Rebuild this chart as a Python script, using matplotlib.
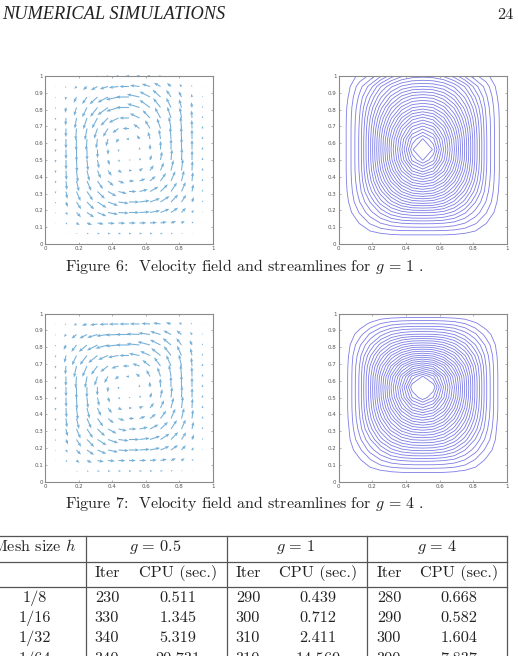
#!/usr/bin/env python3
# Page with velocity fields, streamlines and the iteration table for the cavity runs.

import numpy as np
import matplotlib
matplotlib.use("Agg")
import matplotlib.pyplot as plt

W, H = 518, 656

# stream function on the left half of the 1/16 mesh (rows from y=1 down to y=0)
psi_g1_half = [
    [0, 2.0, 5.0, 7.8, 12.8, 18.0, 22.0, 24.0, 24.5],
    [0, 3.4, 8.8, 14.6, 22.3, 28.2, 32.4, 34.5, 35.0],
    [0, 4.4, 11.0, 19.3, 28.2, 36.0, 42.2, 46.0, 47.0],
    [0, 5.1, 12.5, 23.0, 33.6, 43.6, 51.4, 56.5, 58.0],
    [0, 5.4, 13.4, 25.6, 38.3, 50.0, 60.1, 67.3, 70.0],
    [0, 5.5, 13.8, 27.1, 41.7, 55.4, 67.7, 77.1, 81.0],
    [0, 5.5, 14.0, 27.9, 43.5, 58.9, 73.0, 85.5, 91.0],
    [0, 5.5, 14.0, 28.0, 44.0, 60.0, 75.0, 90.0, 100.0],
    [0, 5.5, 14.0, 27.8, 43.4, 58.7, 72.7, 85.3, 91.0],
    [0, 5.5, 13.8, 26.8, 41.0, 54.6, 66.6, 75.9, 80.0],
    [0, 5.3, 13.1, 24.6, 36.8, 48.1, 58.0, 64.6, 67.0],
    [0, 4.9, 11.9, 21.1, 30.8, 40.2, 47.6, 52.5, 54.0],
    [0, 4.2, 10.1, 16.5, 24.2, 30.9, 36.3, 39.3, 40.0],
    [0, 2.9, 7.4, 12.1, 16.9, 21.5, 24.4, 25.8, 26.0],
    [0, 1.2, 4.2, 7.5, 10.3, 12.3, 13.5, 13.9, 14.0],
    [0, 0.0, 1.2, 2.9, 3.9, 4.4, 4.6, 4.6, 4.6],
    [0, 0, 0, 0, 0, 0, 0, 0, 0],
]
psi_g4_half = [
    [0, 0, 0, 0, 0, 0, 0, 0, 0],
    [0, 0.0, 2.2, 4.7, 7.4, 9.2, 10.1, 10.5, 10.5],
    [0, 2.0, 5.8, 10.8, 15.3, 19.4, 21.8, 22.8, 23.0],
    [0, 3.4, 9.5, 16.5, 24.0, 30.4, 35.0, 37.5, 38.0],
    [0, 4.2, 12.0, 21.9, 32.1, 41.2, 48.2, 52.7, 54.0],
    [0, 4.5, 13.4, 25.8, 38.8, 50.6, 61.0, 68.3, 71.0],
    [0, 4.6, 13.9, 27.6, 42.9, 57.6, 70.9, 82.5, 88.0],
    [0, 4.6, 14.0, 28.0, 44.0, 60.0, 75.0, 90.0, 100.0],
    [0, 4.6, 14.0, 27.8, 43.4, 58.6, 72.4, 84.5, 90.0],
    [0, 4.6, 13.7, 26.8, 40.9, 54.1, 65.8, 74.4, 78.0],
    [0, 4.4, 12.9, 24.5, 36.6, 47.5, 56.7, 62.9, 65.0],
    [0, 4.0, 11.4, 20.9, 30.8, 39.7, 46.5, 50.7, 52.0],
    [0, 3.4, 9.3, 16.1, 24.2, 30.9, 35.8, 38.4, 39.0],
    [0, 2.4, 6.2, 11.5, 16.5, 21.5, 24.7, 26.2, 26.5],
    [0, 1.0, 3.4, 6.5, 9.8, 12.1, 13.4, 13.9, 14.0],
    [0, 0.0, 1.1, 2.6, 3.6, 4.3, 4.6, 4.7, 4.7],
    [0, 0, 0, 0, 0, 0, 0, 0, 0],
]

# arrow speed on the same half mesh, same row order
speed_half = [
    [0, 0, 0, 0, 0.2, 0.8, 1.2, 1.4, 1.5],
    [0, 0.3, 0.8, 1.5, 2.5, 3.5, 4.0, 4.5, 4.5],
    [0, 0.6, 1.5, 3.0, 4.0, 5.0, 5.5, 6.0, 6.0],
    [0, 0.8, 2.5, 4.0, 5.0, 5.5, 6.0, 6.0, 6.0],
    [0, 1.0, 3.5, 5.0, 5.5, 5.5, 5.0, 5.0, 4.5],
    [0, 1.2, 4.0, 5.5, 5.5, 5.0, 4.5, 3.5, 3.0],
    [0, 1.2, 4.5, 5.5, 5.5, 4.5, 3.5, 2.2, 1.5],
    [0, 1.2, 4.5, 5.5, 5.0, 4.0, 2.5, 1.2, 0],
    [0, 1.2, 4.5, 5.5, 5.0, 4.0, 2.5, 1.2, 0.8],
    [0, 1.2, 4.5, 5.5, 5.0, 4.0, 3.0, 2.0, 1.5],
    [0, 1.1, 4.2, 5.0, 5.0, 4.5, 3.5, 3.0, 2.5],
    [0, 1.0, 3.5, 4.8, 5.0, 4.8, 4.5, 4.0, 3.5],
    [0, 0.8, 2.5, 4.0, 4.8, 5.0, 5.0, 4.8, 4.8],
    [0, 0.5, 1.5, 3.0, 4.0, 4.5, 4.8, 4.8, 4.8],
    [0, 0.3, 1.0, 1.8, 2.5, 3.0, 3.2, 3.2, 3.2],
    [0, 0.1, 0.3, 0.6, 0.9, 1.1, 1.2, 1.2, 1.2],
    [0, 0, 0, 0, 0, 0, 0, 0, 0],
]

levels_g1 = [4 + 3.1 * k for k in range(29)]
levels_g4 = [4 + 3.1 * k for k in range(28)]

x_ticks = [0, 0.2, 0.4, 0.6, 0.8, 1]
y_ticks = [0, 0.1, 0.2, 0.3, 0.4, 0.5, 0.6, 0.7, 0.8, 0.9, 1]

table_head = [r"$g\,=\,0.5$", r"$g\,=\,1$", r"$g\,=\,4$"]
mesh_sizes = ["1/8", "1/16", "1/32", "1/64"]
iters_g05 = ["230", "330", "340", "340"]
cpu_g05 = ["0.511", "1.345", "5.319", "20.731"]
iters_g1 = ["290", "300", "310", "310"]
cpu_g1 = ["0.439", "0.712", "2.411", "14.569"]
iters_g4 = ["280", "290", "300", "300"]
cpu_g4 = ["0.668", "0.582", "1.604", "7.837"]

plt.rcParams["mathtext.fontset"] = "cm"
plt.rcParams["axes.unicode_minus"] = False

TEXT = "#222222"
RULE = "#555555"
ROMAN = "cmr10"
FS = 11.7


def mirror(half):
    half = np.array(half, dtype=float)
    return np.hstack([half, half[:, -2::-1]])[::-1]


def pixel_axes(fig, left, top, right, bottom):
    ax = fig.add_axes([left / W, 1 - bottom / H, (right - left) / W, (bottom - top) / H])
    ax.set_xlim(0, 1)
    ax.set_ylim(0, 1)
    ax.set_xticks(x_ticks)
    ax.set_yticks(y_ticks)
    ax.set_xticklabels([f"{t:g}" for t in x_ticks])
    ax.set_yticklabels([f"{t:g}" for t in y_ticks])
    ax.tick_params(direction="in", length=1.5, width=0.4, color="#777777",
                   labelsize=4, labelcolor="#555555", pad=1.5, top=True, right=True)
    for spine in ax.spines.values():
        spine.set_color("#8a8a8a")
        spine.set_linewidth(0.8)
    return ax


def draw_velocity(ax, psi, speed):
    mesh = np.linspace(0, 1, 17)
    dpsi_dy, dpsi_dx = np.gradient(psi)
    norm = np.hypot(dpsi_dx, dpsi_dy)
    norm[norm == 0] = 1
    u = speed * dpsi_dy / norm / 100
    v = -speed * dpsi_dx / norm / 100
    jj, ii = np.nonzero(speed)
    ax.quiver(mesh[ii], mesh[jj], u[jj, ii], v[jj, ii], angles="xy", scale_units="xy",
              scale=0.78, color="#4a97cb", width=0.0065, headwidth=3.0, headlength=3.8,
              headaxislength=3.4, minlength=0.2, clip_on=False, alpha=0.75)


def draw_streamlines(ax, psi, levels):
    mesh = np.linspace(0, 1, 17)
    ax.contour(mesh, mesh, psi, levels=levels, colors="#7c7ce6", linewidths=0.6)


def page_text(fig, x, y, s, **kw):
    kw.setdefault("color", TEXT)
    kw.setdefault("family", ROMAN)
    kw.setdefault("va", "baseline")
    kw.setdefault("fontsize", FS)
    fig.text(x / W, 1 - y / H, s, **kw)


def draw_table(fig):
    overlay = fig.add_axes([0, 0, 1, 1], facecolor="none")
    overlay.set_xlim(0, W)
    overlay.set_ylim(H, 0)
    overlay.axis("off")
    for y in (536, 561.5, 587):
        overlay.plot([0, 507], [y, y], color=RULE, lw=0.9)
    for x in (85.5, 226.5, 367, 507):
        overlay.plot([x, x], [536, H], color=RULE, lw=0.9)

    page_text(fig, 77, 551, r"Mesh size $h$", ha="right")
    centers = [(107, 178), (248, 318), (389, 459)]
    head_x = [155.7, 296, 437]
    for hx, label in zip(head_x, table_head):
        page_text(fig, hx, 551, label, ha="center")
    for ix, cx in centers:
        page_text(fig, ix, 577, "Iter", ha="center")
        page_text(fig, cx, 577, "CPU (sec.)", ha="center")

    columns = [iters_g05, cpu_g05, iters_g1, cpu_g1, iters_g4, cpu_g4]
    col_x = [x for pair in centers for x in pair]
    row_y = [602, 622.5, 642.5, 662.5]
    for r, y in enumerate(row_y):
        page_text(fig, 35, y, mesh_sizes[r], ha="center")
        for x, col in zip(col_x, columns):
            page_text(fig, x, y, col[r], ha="center")


psi_g1 = mirror(psi_g1_half)
psi_g4 = mirror(psi_g4_half)
speed_g1 = mirror(speed_half)
speed_g4 = speed_g1.copy()
speed_g4[-1] = 0

fig = plt.figure(figsize=(W / 100, H / 100), dpi=100, facecolor="white")

draw_velocity(pixel_axes(fig, 45, 76, 213, 244), psi_g1, speed_g1)
draw_streamlines(pixel_axes(fig, 338.5, 76, 507, 244), psi_g1, levels_g1)
draw_velocity(pixel_axes(fig, 45, 313.5, 213, 481.5), psi_g4, speed_g4)
draw_streamlines(pixel_axes(fig, 338.5, 313.5, 507, 481.5), psi_g4, levels_g4)

page_text(fig, 2, 19, "NUMERICAL SIMULATIONS", family="Liberation Serif", style="italic", fontsize=13.2)
page_text(fig, 513.5, 19, "24", ha="right")
page_text(fig, 65, 271, r"Figure 6:  Velocity field and streamlines for $g\,=\,1$ .", fontsize=11.5)
page_text(fig, 65, 508, r"Figure 7:  Velocity field and streamlines for $g\,=\,4$ .", fontsize=11.5)
draw_table(fig)

fig.savefig("out.png", dpi=100)
plt.close(fig)
